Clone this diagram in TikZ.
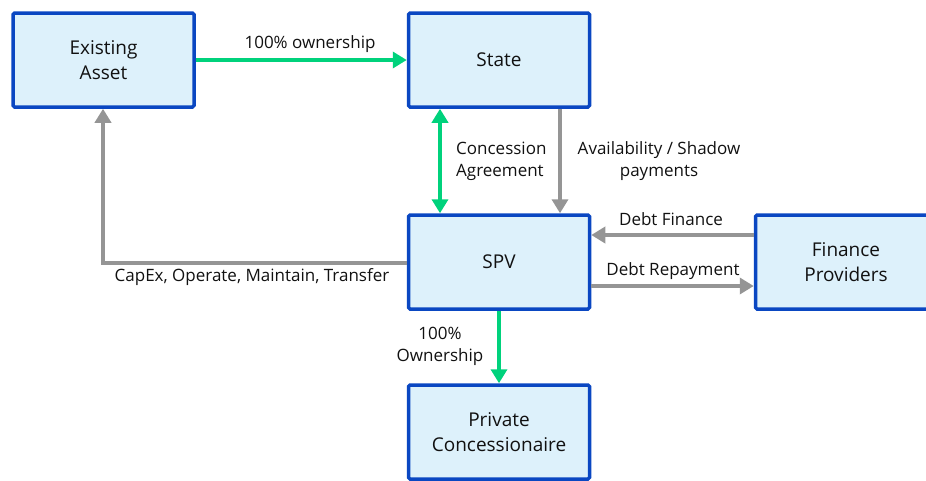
\documentclass[tikz,border=0pt]{standalone}
\usepackage{fontspec}
\setmainfont{Open Sans}
\usetikzlibrary{arrows.meta}
\definecolor{boxblue}{HTML}{0A47C2}
\definecolor{boxfill}{HTML}{DDF1FB}
\definecolor{flowgreen}{HTML}{00D27C}
\definecolor{flowgray}{HTML}{959595}
\definecolor{ink}{HTML}{111111}
\begin{document}
\begin{tikzpicture}[x=1pt,y=-1pt,
  entity/.style={draw=boxblue, fill=boxfill, line width=3.5pt, rounded corners=1.5pt,
    minimum width=181pt, minimum height=94pt, align=center, text=ink,
    font=\fontsize{19}{25}\selectfont, inner sep=0pt},
  lbl/.style={text=ink, font=\fontsize{17}{22}\selectfont, inner sep=0pt},
  greenflow/.style={draw=flowgreen, line width=4pt, -{Triangle[width=16pt,length=14pt]}},
  grayflow/.style={draw=flowgray, line width=4pt, -{Triangle[width=16pt,length=14pt]}},
  greenboth/.style={draw=flowgreen, line width=4pt, {Triangle[width=16pt,length=14pt]}-{Triangle[width=16pt,length=14pt]}}
]
\useasboundingbox (0,0) rectangle (926,480);
\clip (0,0) rectangle (926,480);

% entities
\node[entity] (asset) at (103.5,60) {Existing\\Asset};
\node[entity] (state) at (499,60) {State};
\node[entity] (spv) at (499,262) {SPV};
\node[entity] (fin) at (846,262) {Finance\\Providers};
\node[entity] (priv) at (499,432) {Private\\Concessionaire};

% flows
\draw[greenflow] (asset.east) -- (state.west);
\node[lbl] (own) at (310,44) {100\% ownership};

\draw[greenboth] (state.south -| 440,0) -- (spv.north -| 440,0);
\node[lbl, anchor=west, align=left] (conc) at (456,161) {Concession\\Agreement};

\draw[grayflow] (state.south -| 560,0) -- (spv.north -| 560,0);
\node[lbl, align=center] (avail) at (659,161) {Availability / Shadow\\payments};

\draw[grayflow] (fin.west |- 0,235) -- (spv.east |- 0,235);
\node[lbl] (dfin) at (671,219) {Debt Finance};

\draw[grayflow] (spv.east |- 0,286) -- (fin.west |- 0,286);
\node[lbl] (drep) at (673,271) {Debt Repayment};

\coordinate (corner) at (103,263);
\draw[grayflow] (spv.west |- corner) -- (corner) -- (asset.south -| corner);
\node[lbl] (capex) at (252,277) {CapEx, Operate, Maintain, Transfer};

\draw[greenflow] (spv.south) -- (priv.north);
\node[lbl, align=center] (pown) at (440,346) {100\%\\Ownership};
\end{tikzpicture}
\end{document}
